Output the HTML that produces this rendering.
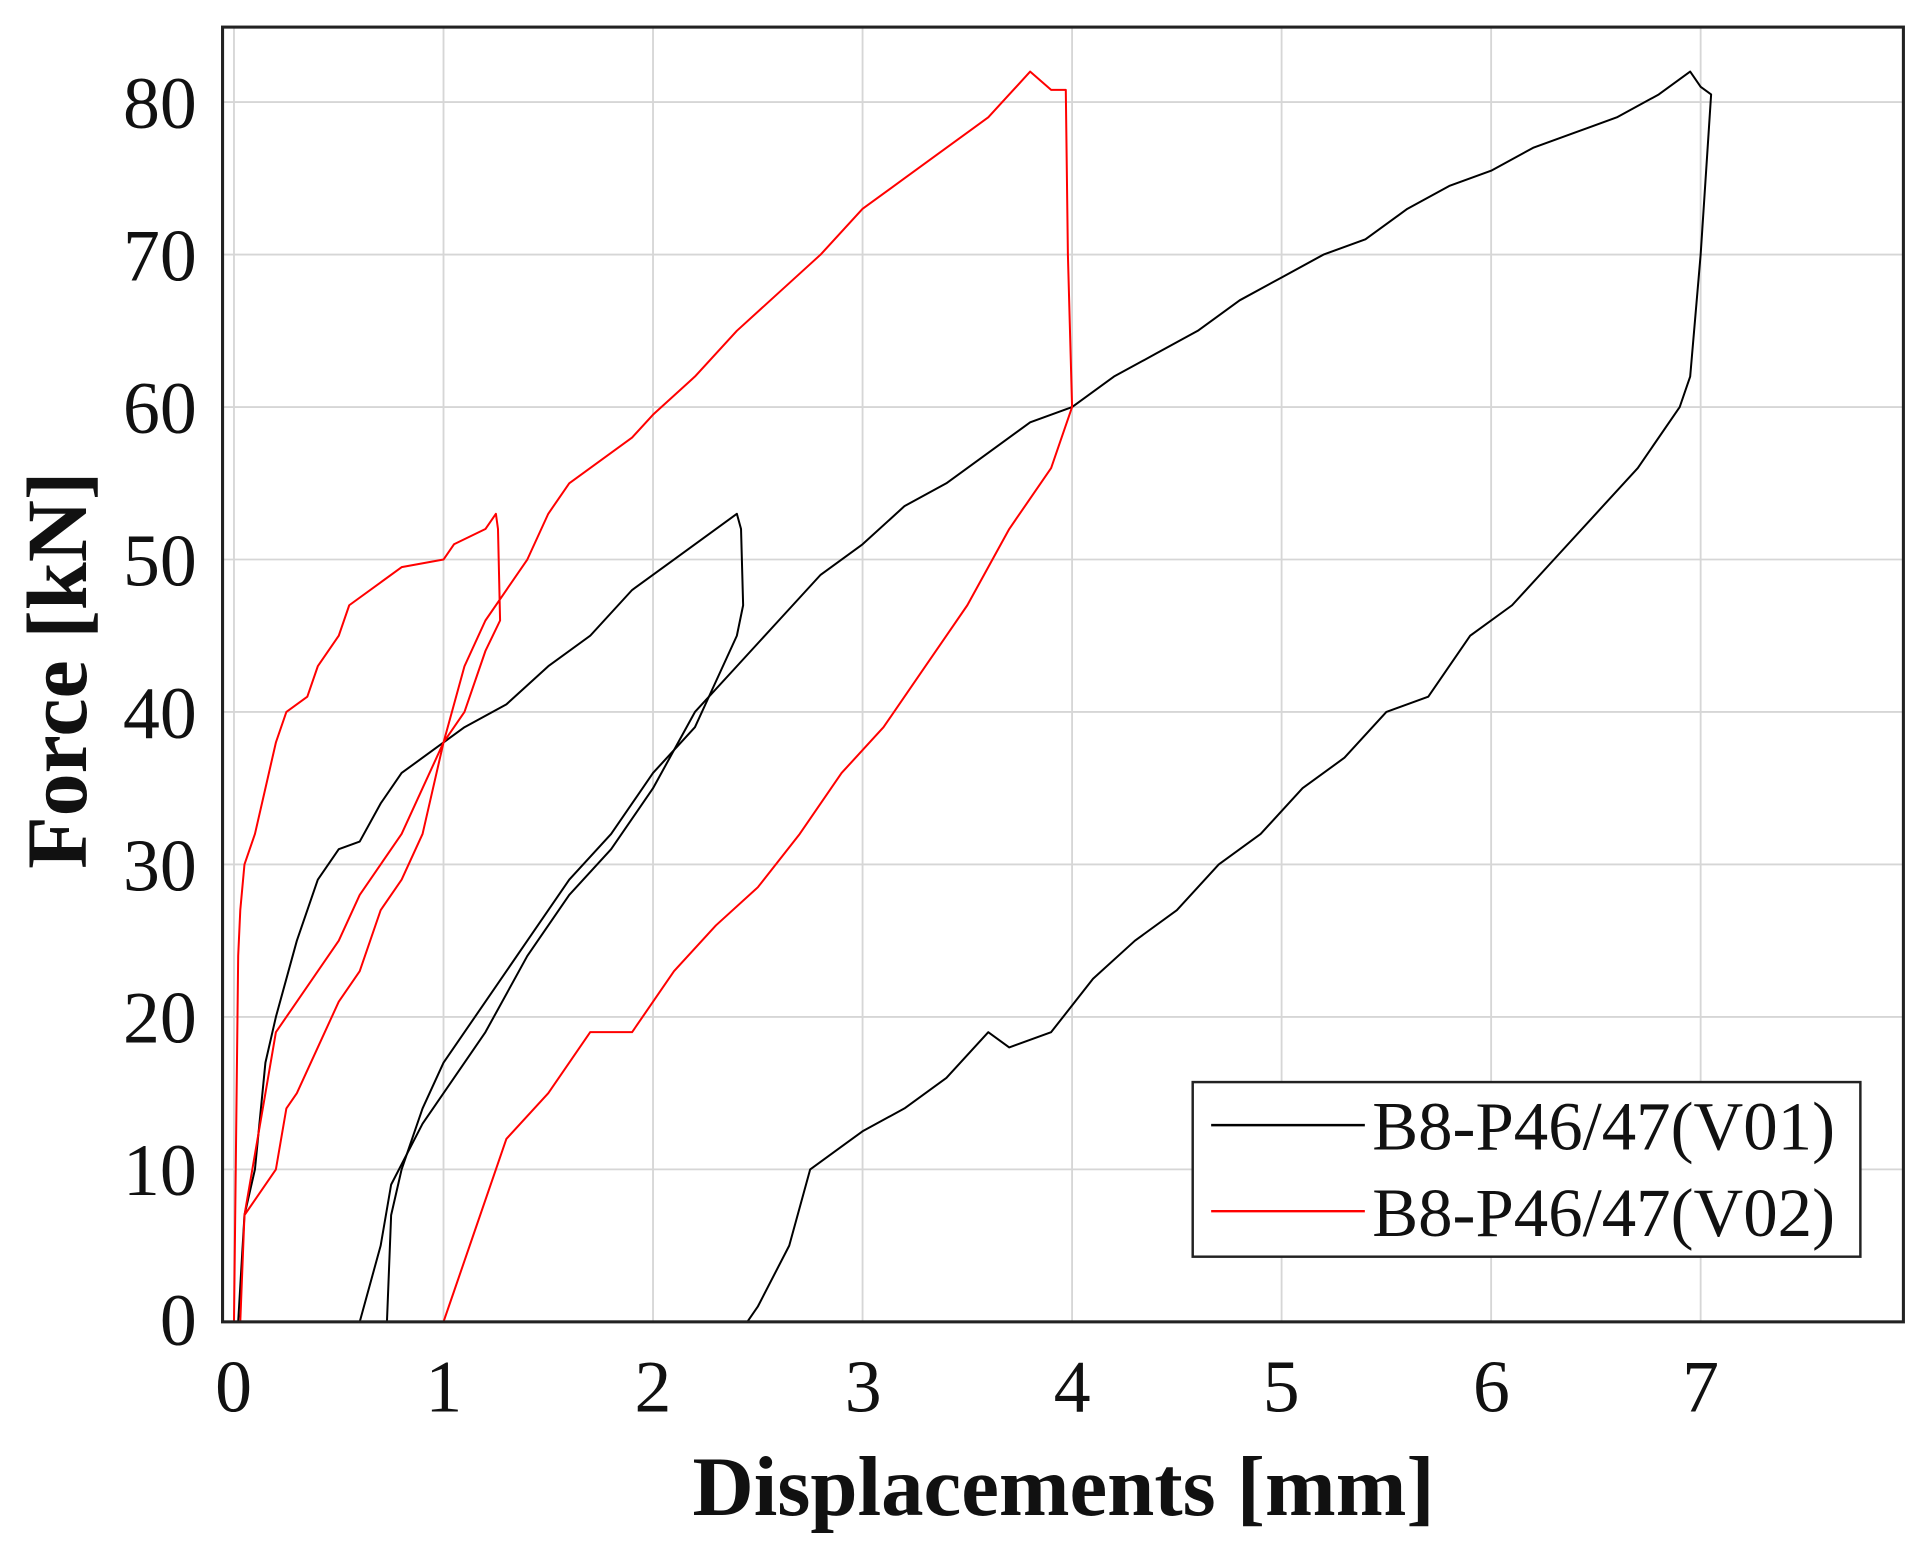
<!DOCTYPE html>
<html><head><style>html,body{margin:0;padding:0;background:#fff}svg{display:block}</style></head><body>
<svg width="1928" height="1542" viewBox="0 0 1568 1254" xmlns="http://www.w3.org/2000/svg" font-family="'Liberation Serif',serif">
<rect width="1568" height="1254" fill="#fff"/>
<g stroke="#d6d6d6" stroke-width="1.5">
<line x1="190.3" y1="22" x2="190.3" y2="1075"/><line x1="360.7" y1="22" x2="360.7" y2="1075"/><line x1="531.1" y1="22" x2="531.1" y2="1075"/><line x1="701.5" y1="22" x2="701.5" y2="1075"/><line x1="871.9" y1="22" x2="871.9" y2="1075"/><line x1="1042.3" y1="22" x2="1042.3" y2="1075"/><line x1="1212.7" y1="22" x2="1212.7" y2="1075"/><line x1="1383.1" y1="22" x2="1383.1" y2="1075"/>
<line x1="181" y1="83" x2="1548" y2="83"/><line x1="181" y1="207" x2="1548" y2="207"/><line x1="181" y1="331" x2="1548" y2="331"/><line x1="181" y1="455" x2="1548" y2="455"/><line x1="181" y1="579" x2="1548" y2="579"/><line x1="181" y1="703" x2="1548" y2="703"/><line x1="181" y1="827" x2="1548" y2="827"/><line x1="181" y1="951" x2="1548" y2="951"/>
</g>
<g transform="translate(190.3,1075) scale(170.4,-12.4)" fill="none" stroke-linejoin="round">
<polyline vector-effect="non-scaling-stroke" stroke="#000" stroke-width="2" points="0.02,0 0.05,7 0.1,10 0.15,17 0.2,20 0.3,25 0.4,29 0.5,31 0.6,31.5 0.7,34 0.8,36 0.9,37 1.0,38 1.1,39 1.3,40.5 1.5,43 1.7,45 1.9,48 2.1,50 2.3,52 2.4,53 2.42,52 2.43,47 2.4,45 2.3,42 2.2,39 2.0,36 1.8,32 1.6,29 1.4,25 1.2,21 1.0,17 0.9,14 0.8,10 0.75,7 0.73,0"/>
<polyline vector-effect="non-scaling-stroke" stroke="#000" stroke-width="2" points="0.6,0 0.7,5 0.75,9 0.9,13 1.0,15 1.2,19 1.4,24 1.6,28 1.8,31 2.0,35 2.2,40 2.4,43 2.6,46 2.8,49 3.0,51 3.2,53.5 3.4,55 3.6,57 3.8,59 4.0,60 4.2,62 4.4,63.5 4.6,65 4.8,67 5.0,68.5 5.2,70 5.4,71 5.6,73 5.8,74.5 6.0,75.5 6.2,77 6.4,78 6.6,79 6.8,80.5 6.9,81.5 6.95,82 7.0,81 7.05,80.5 7.0,70 6.95,62 6.9,60 6.7,56 6.5,53 6.3,50 6.1,47 5.9,45 5.7,41 5.5,40 5.3,37 5.1,35 4.9,32 4.7,30 4.5,27 4.3,25 4.1,22.5 3.9,19 3.7,18 3.6,19 3.4,16 3.2,14 3.0,12.5 2.75,10 2.65,5 2.5,1 2.45,0"/>
<polyline vector-effect="non-scaling-stroke" stroke="#f00" stroke-width="2" points="0,0 0.02,24 0.03,27 0.05,30 0.1,32 0.15,35 0.2,38 0.25,40 0.35,41 0.4,43 0.5,45 0.55,47 0.7,48.5 0.8,49.5 1.0,50 1.05,51 1.2,52 1.25,53 1.26,52 1.27,46 1.2,44 1.1,40 1.0,38 0.9,32 0.8,29 0.7,27 0.6,23 0.5,21 0.4,18 0.3,15 0.25,14 0.2,10 0.1,8 0.05,7 0.03,0 0.05,7 0.1,11 0.15,15 0.2,19 0.3,21 0.4,23 0.5,25 0.6,28 0.7,30 0.8,32 0.9,35 1.0,38 1.1,43 1.2,46 1.3,48 1.4,50 1.5,53 1.6,55 1.8,57 1.9,58 2.0,59.5 2.2,62 2.4,65 2.6,67.5 2.8,70 3.0,73 3.2,75 3.4,77 3.6,79 3.7,80.5 3.8,82 3.9,80.8 3.97,80.8 3.98,70 4.0,60 3.9,56 3.7,52 3.5,47 3.3,43 3.1,39 2.9,36 2.7,32 2.5,28.5 2.3,26 2.1,23 1.9,19 1.7,19 1.5,15 1.3,12 1.25,10 1.15,6 1.05,2 1.0,0"/>
</g>
<rect x="181" y="22" width="1367" height="1053" fill="none" stroke="#222" stroke-width="2.5"/>
<g font-size="60" text-anchor="end" fill="#111">
<text x="160" y="104">80</text><text x="160" y="228">70</text><text x="160" y="352">60</text><text x="160" y="476">50</text><text x="160" y="600">40</text><text x="160" y="724">30</text><text x="160" y="848">20</text><text x="160" y="972">10</text><text x="160" y="1094">0</text>
</g>
<g font-size="60" text-anchor="middle" fill="#111">
<text x="190" y="1148">0</text><text x="361" y="1148">1</text><text x="531" y="1148">2</text><text x="702" y="1148">3</text><text x="872" y="1148">4</text><text x="1042" y="1148">5</text><text x="1213" y="1148">6</text><text x="1383" y="1148">7</text>
</g>
<text x="865" y="1232" font-size="69" font-weight="bold" text-anchor="middle" fill="#111">Displacements [mm]</text>
<text transform="translate(70,545) rotate(-90)" font-size="70" font-weight="bold" text-anchor="middle" fill="#111">Force [kN]</text>
<rect x="970" y="880" width="543" height="142" fill="#fff" stroke="#222" stroke-width="2"/>
<line x1="985" y1="915" x2="1110" y2="915" stroke="#000" stroke-width="2"/>
<line x1="985" y1="985" x2="1110" y2="985" stroke="#f00" stroke-width="2"/>
<text x="1116" y="935" font-size="56" fill="#111">B8-P46/47(V01)</text>
<text x="1116" y="1005" font-size="56" fill="#111">B8-P46/47(V02)</text>
</svg>
</body></html>
